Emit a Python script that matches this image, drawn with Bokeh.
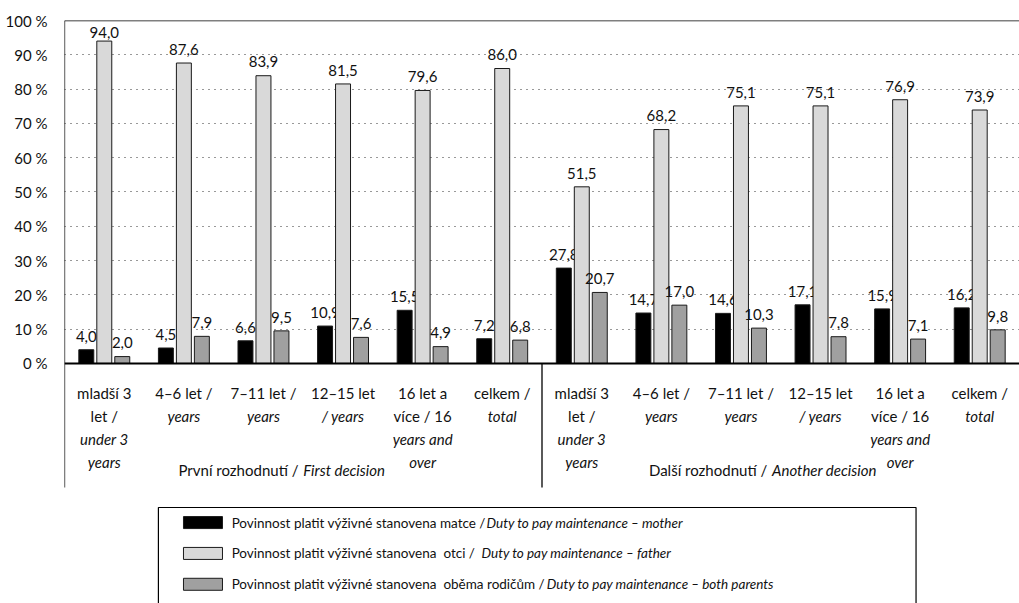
from bokeh.plotting import figure
from bokeh.models import Range1d, FixedTicker, ColumnDataSource
from bokeh.core.properties import value
from bokeh.embed import file_html
from bokeh.resources import INLINE

FONT = "Lato"

# ---------------- data ----------------
mother = [4.0, 4.5, 6.6, 10.9, 15.5, 7.2, 27.8, 14.7, 14.6, 17.1, 15.9, 16.2]
father = [94.0, 87.6, 83.9, 81.5, 79.6, 86.0, 51.5, 68.2, 75.1, 75.1, 76.9, 73.9]
both = [2.0, 7.9, 9.5, 7.6, 4.9, 6.8, 20.7, 17.0, 10.3, 7.8, 7.1, 9.8]

cat_lines_base = [
    [("mladší 3", "normal"), ("let /", "normal"), ("under 3", "italic"), ("years", "italic")],
    [("4–6 let /", "normal"), ("years", "italic")],
    [("7–11 let /", "normal"), ("years", "italic")],
    [("12–15 let", "normal"), ("/ years", "italic")],
    [("16 let a", "normal"), ("více / 16", "normal"), ("years and", "italic"), ("over", "italic")],
    [("celkem /", "normal"), ("total", "italic")],
]
cat_lines = cat_lines_base + cat_lines_base

group_normal = ["První rozhodnutí /", "Další rozhodnutí /"]
group_italic = ["First decision", "Another decision"]

legend_normal = [
    "Povinnost platit výživné stanovena matce /",
    "Povinnost platit výživné stanovena\u00a0 otci /",
    "Povinnost platit výživné stanovena\u00a0 oběma rodičům /",
]
legend_italic = [
    "Duty to pay maintenance – mother",
    "Duty to pay maintenance – father",
    "Duty to pay maintenance – both parents",
]
y_ticks = list(range(0, 101, 10))

colors = ["#000000", "#d9d9d9", "#a0a0a0"]

# ---------------- figure ----------------
p = figure(width=1019, height=603, output_backend="svg", toolbar_location=None,
           x_range=Range1d(0, 12), y_range=Range1d(-70, 100),
           x_axis_location=None, min_border_left=64, min_border_right=0,
           min_border_top=20, min_border_bottom=0)
p.outline_line_color = None
p.background_fill_color = "white"
p.border_fill_color = "white"

p.xgrid.visible = False
p.ygrid.ticker = FixedTicker(ticks=y_ticks[1:-1])
p.ygrid.grid_line_color = "#333333"
p.ygrid.grid_line_dash = "1 5"
p.ygrid.grid_line_width = 1

ax = p.yaxis[0]
ax.ticker = FixedTicker(ticks=y_ticks)
ax.major_label_overrides = {t: f"{t} %" for t in y_ticks}
ax.axis_line_color = None
ax.major_tick_line_color = None
ax.minor_tick_line_color = None
ax.major_label_standoff = 11
ax.major_label_text_font = FONT
ax.major_label_text_font_size = "15px"
ax.major_label_text_color = "#111111"

n = len(mother)
bw = 0.188
off = 0.226
series = [mother, father, both]
for k, vals in enumerate(series):
    xs = [i + 0.5 + (k - 1) * off for i in range(n)]
    src = ColumnDataSource(dict(
        x=xs, top=vals,
        ly=[min(v + 4.0, 96.5) for v in vals],
        lab=[f"{v:.1f}".replace(".", ",") for v in vals]))
    p.vbar(x="x", top="top", bottom=0, width=bw, source=src,
           fill_color=colors[k], line_color="#1a1a1a", line_width=1)
    p.text(x="x", y="ly", text="lab", source=src, text_align="center",
           text_baseline="alphabetic", text_font=value(FONT),
           text_font_size="15px", text_color="#111111")

# frame lines
p.segment(x0=[0, 0, 0, 6], y0=[100, 0, -36.2, 0],
          x1=[12, 12, 0, 6], y1=[100, 0, 100, -36.2],
          line_color="black", line_width=[1.3, 2, 1.3, 1.3])

# category labels
line_step = 6.7
for i, lines in enumerate(cat_lines):
    for j, (txt, style) in enumerate(lines):
        p.text(x=[i + 0.5], y=[-8.75 - j * line_step], text=[txt],
               text_align="center", text_baseline="middle",
               text_font=value(FONT), text_font_size="15px",
               text_font_style=style, text_color="#111111")

# group labels
gx = [2.94, 8.83]
for g in range(2):
    p.text(x=[gx[g]], y=[-31.2], text=[group_normal[g]], text_align="right",
           text_baseline="middle", text_font=value(FONT), text_font_size="15px",
           text_color="#111111")
    p.text(x=[gx[g] + 0.06], y=[-31.2], text=[group_italic[g]], text_align="left",
           text_baseline="middle", text_font=value(FONT), text_font_size="15px",
           text_font_style="italic", text_color="#111111")

# legend box
p.quad(left=[1.18], right=[10.70], top=[-42.0], bottom=[-80],
       fill_color=None, line_color="black", line_width=1.2)
row_y = [-46.4, -55.4, -64.4]
italic_x = [5.303, 5.24, 6.06]
for r in range(3):
    p.quad(left=[1.495], right=[1.985], top=[row_y[r] + 1.75], bottom=[row_y[r] - 1.75],
           fill_color=colors[r], line_color="#1a1a1a", line_width=1)
    p.text(x=[2.10], y=[row_y[r]], text=[legend_normal[r]], text_align="left",
           text_baseline="middle", text_font=value(FONT), text_font_size="13.5px",
           text_color="#111111")
    p.text(x=[italic_x[r]], y=[row_y[r]], text=[legend_italic[r]], text_align="left",
           text_baseline="middle", text_font=value(FONT), text_font_size="13.5px",
           text_font_style="italic", text_color="#111111")

open("out.html", "w").write(file_html(p, INLINE))
